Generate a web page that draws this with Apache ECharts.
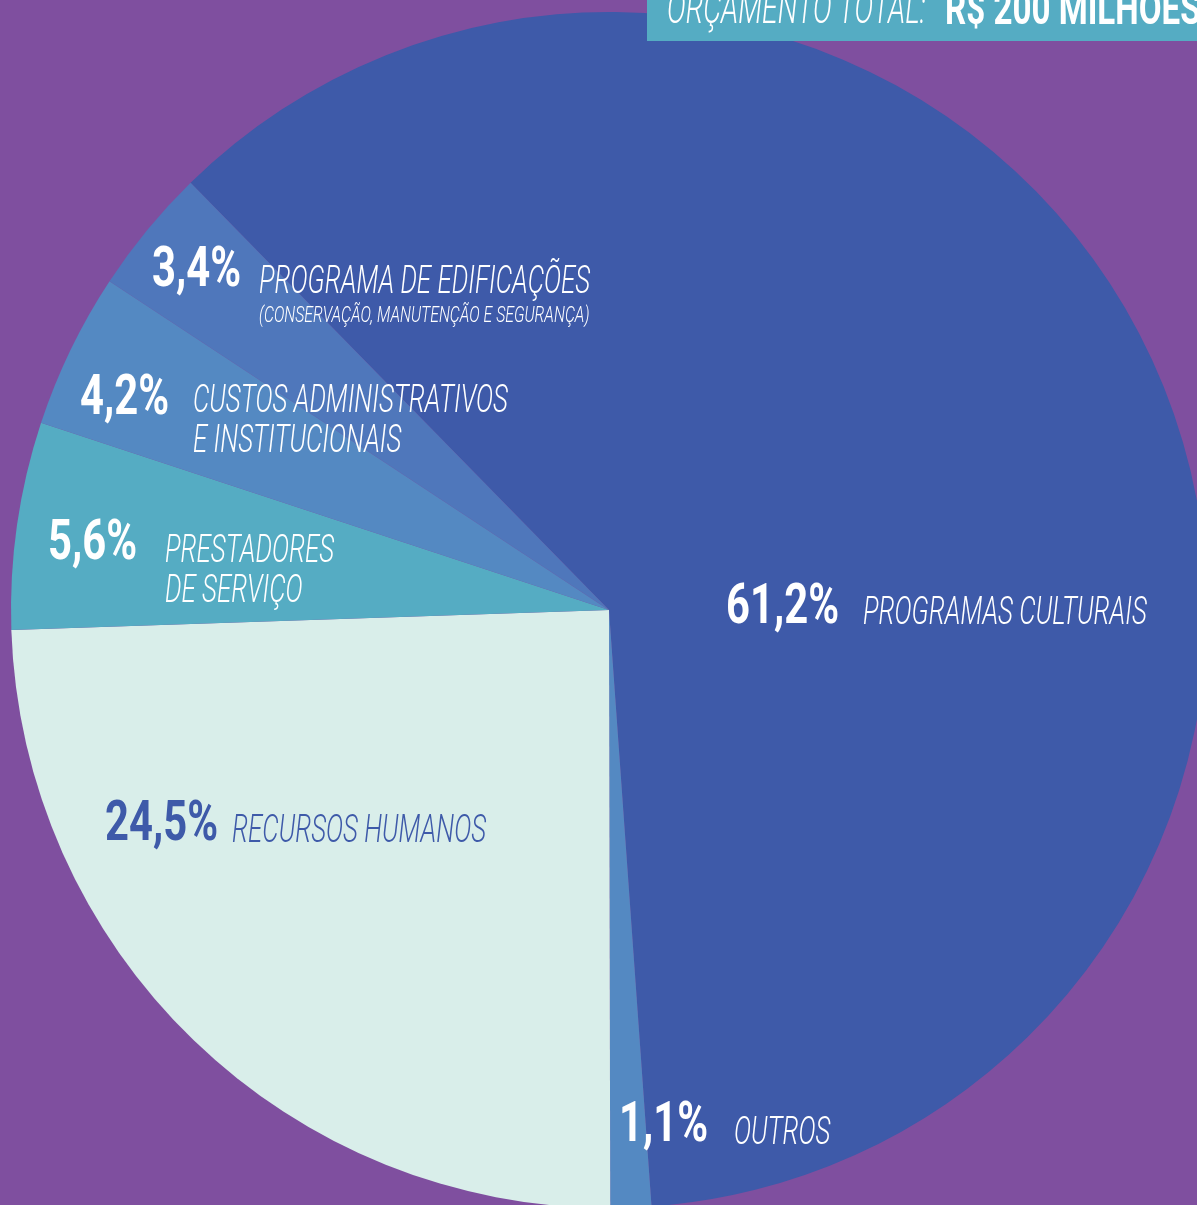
<!DOCTYPE html>
<html>
<head>
<meta charset="utf-8">
<style>
  html, body { margin: 0; padding: 0; background: #7f4f9f; }
  #chart { width: 1197px; height: 1205px; }
</style>
<script src="https://cdn.jsdelivr.net/npm/echarts@6/dist/echarts.min.js"></script>
</head>
<body>
<div id="chart"></div>
<script>
// budget split (clockwise from upper left)
const categories = ['PROGRAMAS CULTURAIS', 'OUTROS', 'RECURSOS HUMANOS', 'PRESTADORES DE SERVIÇO', 'CUSTOS ADMINISTRATIVOS E INSTITUCIONAIS', 'PROGRAMA DE EDIFICAÇÕES'];
const shares = [61.2, 1.1, 24.5, 5.6, 4.2, 3.4];
const labelLines = [
    ['PROGRAMAS CULTURAIS'],
    ['OUTROS'],
    ['RECURSOS HUMANOS'],
    ['PRESTADORES', 'DE SERVIÇO'],
    ['CUSTOS ADMINISTRATIVOS', 'E INSTITUCIONAIS'],
    ['PROGRAMA DE EDIFICAÇÕES']
];
const noteText = '(CONSERVAÇÃO, MANUTENÇÃO E SEGURANÇA)';
const titleText = 'ORÇAMENTO TOTAL:';
const totalText = 'R$ 200 MILHÕES';

const sliceColors = ['#3e5aa9', '#5489c2', '#d9eeea', '#55acc3', '#5489c2', '#4f77bb'];
const textColors = ['#fff', '#fff', '#3e5aa9', '#fff', '#fff', '#fff'];

// label layout: number x, label x, y of first line (cap middle)
const layout = [
    { nx: 726, lx: 863, ny: 609, ly: 614 },
    { nx: 619, lx: 734, ny: 1127, ly: 1134 },
    { nx: 105, lx: 232, ny: 826, ly: 832 },
    { nx: 48,  lx: 165, ny: 545, ly: 552 },
    { nx: 80,  lx: 193, ny: 400, ly: 402 },
    { nx: 152, lx: 259, ny: 272, ly: 283 }
];
const lineGap = 40;

const fmt = v => v.toFixed(1).replace('.', ',') + '%';

const chart = echarts.init(document.getElementById('chart'));

const graphics = [];
shares.forEach((v, i) => {
    const L = layout[i];
    graphics.push({
        type: 'text', x: L.nx, y: L.ny, scaleX: 0.76, z: 100,
        style: { text: fmt(v), fill: textColors[i], font: 'bold 55px Roboto', verticalAlign: 'middle' }
    });
    labelLines[i].forEach((t, k) => {
        graphics.push({
            type: 'text', x: L.lx, y: L.ly + k * lineGap, scaleX: 0.665, z: 100,
            style: { text: t, fill: textColors[i], font: 'italic 300 39px Roboto', verticalAlign: 'middle' }
        });
    });
});
graphics.push({
    type: 'text', x: layout[5].lx, y: 316, scaleX: 0.72, z: 100,
    style: { text: noteText, fill: '#fff', font: 'italic 300 22px Roboto', verticalAlign: 'middle' }
});
graphics.push({
    type: 'rect', shape: { x: 647, y: 0, width: 560, height: 41 }, z: 100,
    style: { fill: '#55acc3' }
});
graphics.push({
    type: 'text', x: 667, y: 12, scaleX: 0.645, z: 101,
    style: { text: titleText, fill: '#fff', font: 'italic 300 44px Roboto', verticalAlign: 'middle' }
});
graphics.push({
    type: 'text', x: 945, y: 12, scaleX: 0.72, z: 101,
    style: { text: totalText, fill: '#fff', font: 'bold 46px Roboto', verticalAlign: 'middle' }
});

chart.setOption({
    backgroundColor: '#7f4f9f',
    animation: false,
    series: [{
        type: 'pie',
        center: [609, 610],
        radius: 598,
        startAngle: 134.4,
        clockwise: true,
        label: { show: false },
        labelLine: { show: false },
        silent: true,
        z: 1,
        data: categories.map((c, i) => ({
            name: c, value: shares[i], itemStyle: { color: sliceColors[i] }
        }))
    }],
    graphic: graphics
});
</script>
</body>
</html>
